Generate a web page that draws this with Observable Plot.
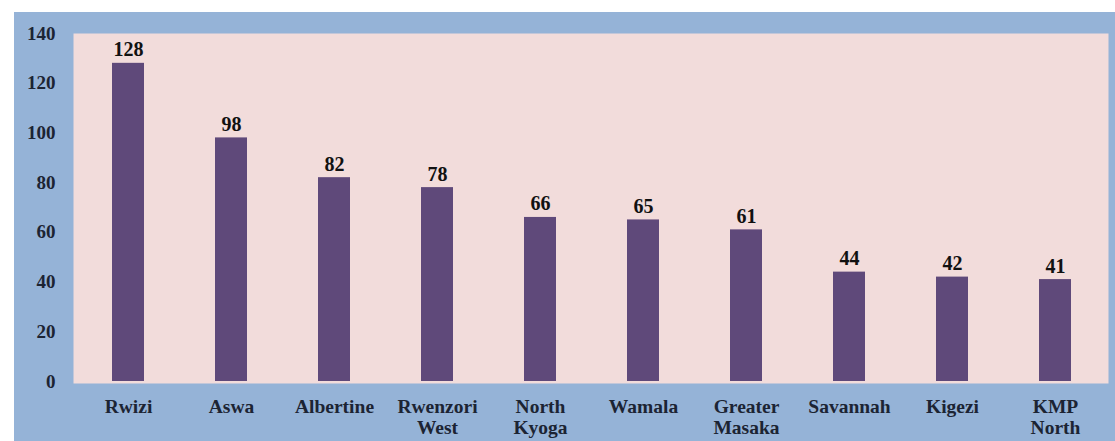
<!DOCTYPE html>
<html>
<head>
<meta charset="utf-8">
<script src="https://cdn.jsdelivr.net/npm/d3@7"></script>
<script src="https://cdn.jsdelivr.net/npm/@observablehq/plot@0.6"></script>
<style>
  html, body { margin: 0; padding: 0; background: #ffffff; }
  #wrap { position: absolute; left: 14px; top: 12px; width: 1101px; height: 429px; background: #95b3d7; }
  #wrap svg { display: block; }
</style>
</head>
<body>
<div id="wrap"></div>
<script>
const regions = ["Rwizi", "Aswa", "Albertine", "Rwenzori West", "North Kyoga", "Wamala", "Greater Masaka", "Savannah", "Kigezi", "KMP North"];
const counts = [128, 98, 82, 78, 66, 65, 61, 44, 42, 41];
const yTicks = [0, 20, 40, 60, 80, 100, 120, 140];

const data = regions.map((r, i) => ({region: r, count: counts[i]}));

const chart = Plot.plot({
  width: 1101,
  height: 429,
  marginLeft: 61,
  marginTop: 21,
  marginRight: 7,
  marginBottom: 60,
  style: {background: "transparent", fontFamily: "'Liberation Serif', 'DejaVu Serif', serif"},
  x: {domain: regions, paddingInner: 0.69, paddingOuter: 0.345, label: null},
  y: {domain: [0, 140], label: null},
  marks: [
    Plot.frame({fill: "#f2dcdb", stroke: null, insetLeft: -2, insetBottom: -2}),
    Plot.axisY({ticks: yTicks, tickSize: 0, tickPadding: 20, fontSize: 19, fontWeight: "bold", fill: "#1c2433", label: null}),
    Plot.axisX({tickSize: 0, tickPadding: 16, fontSize: 19.5, fontWeight: "bold", fill: "#1c2433", lineHeight: 1.1, tickFormat: d => d.replace(" ", "\n"), label: null}),
    Plot.barY(data, {x: "region", y: "count", fill: "#5f497a"}),
    Plot.text(data, {x: "region", y: "count", text: d => String(d.count), lineAnchor: "bottom", dy: -7, fontSize: 20, fontWeight: "bold", fill: "#111111"})
  ]
});
document.getElementById("wrap").appendChild(chart);
</script>
</body>
</html>
